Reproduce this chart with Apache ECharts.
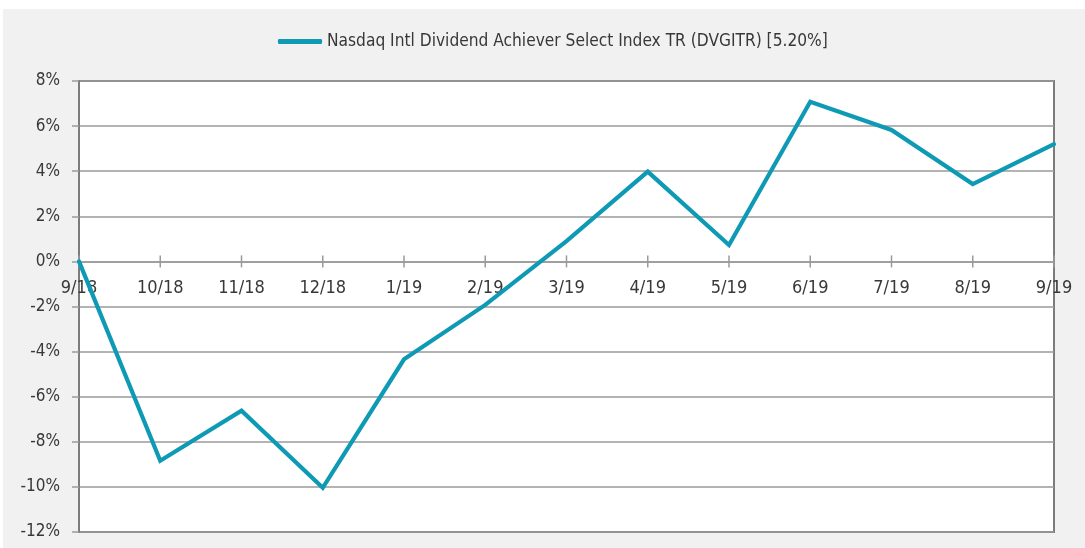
<!DOCTYPE html>
<html>
<head>
<meta charset="utf-8">
<script src="https://cdn.jsdelivr.net/npm/echarts@6/dist/echarts.min.js"></script>
<style>
  html, body { margin: 0; padding: 0; background: #ffffff; }
  #chart { width: 1085px; height: 548px; }
</style>
</head>
<body>
<div id="chart"></div>
<script>
// Monthly cumulative total return, Sep 2018 – Sep 2019
const months = ['9/18', '10/18', '11/18', '12/18', '1/19', '2/19', '3/19', '4/19', '5/19', '6/19', '7/19', '8/19', '9/19'];
const returns = [0, -8.84, -6.62, -10.04, -4.34, -1.93, 0.90, 3.98, 0.73, 7.08, 5.83, 3.43, 5.20];
const seriesName = 'Nasdaq Intl Dividend Achiever Select Index TR (DVGITR) [5.20%]';
const yMin = -12, yMax = 8, yStep = 2;

const lineColor = '#0e9ab5';
const gridGray = '#9a9a9a';
const textColor = '#383838';
const fontFamily = '"DejaVu Sans Condensed", Roboto, sans-serif';

const chart = echarts.init(document.getElementById('chart'), null, { renderer: 'canvas' });

chart.setOption({
  backgroundColor: '#ffffff',
  animation: false,
  graphic: [{
    type: 'rect',
    z: -100,
    silent: true,
    shape: { x: 3, y: 9, width: 1082, height: 539 },
    style: { fill: '#f1f1f1' }
  }],
  legend: {
    data: [{ name: seriesName, icon: 'roundRect' }],
    left: 273,
    top: 28,
    itemWidth: 44,
    itemHeight: 5,
    itemGap: 2,
    textStyle: { fontFamily: fontFamily, fontSize: 17.2, color: textColor }
  },
  grid: {
    left: 79, top: 81, right: 31, bottom: 16,
    outerBoundsMode: 'none',
    containLabel: false,
    show: true,
    backgroundColor: '#ffffff',
    borderColor: '#7c7c7c',
    borderWidth: 2
  },
  xAxis: {
    type: 'category',
    data: months,
    boundaryGap: false,
    axisLine: { onZero: true, lineStyle: { color: gridGray, width: 1.5 } },
    axisTick: { show: false },
    axisLabel: { show: false },
    splitLine: { show: false }
  },
  yAxis: {
    type: 'value',
    min: yMin, max: yMax, interval: yStep,
    axisLine: { show: true, lineStyle: { color: '#7c7c7c', width: 2 } },
    axisTick: { show: true, length: 7, lineStyle: { color: gridGray, width: 1.5 } },
    axisLabel: {
      margin: 19,
      formatter: '{value}%',
      fontFamily: fontFamily, fontSize: 17, color: textColor
    },
    splitLine: { show: true, lineStyle: { color: gridGray, width: 1.5 } }
  },
  series: [
    {
      // category ticks crossing the zero line, with the month labels beneath
      type: 'scatter',
      silent: true,
      data: months.map(m => [m, 0]),
      symbol: 'rect',
      symbolSize: [1.5, 12],
      itemStyle: { color: gridGray, opacity: 1 },
      label: {
        show: true,
        position: 'bottom',
        distance: 12,
        formatter: p => p.value[0],
        fontFamily: fontFamily,
        fontSize: 18,
        color: textColor,
        opacity: 1
      },
      z: 1
    },
    {
      name: seriesName,
      type: 'line',
      data: returns,
      showSymbol: false,
      symbol: 'none',
      lineStyle: { color: lineColor, width: 4.2, cap: 'round', join: 'miter' },
      itemStyle: { color: lineColor },
      z: 3
    }
  ]
});
</script>
</body>
</html>
